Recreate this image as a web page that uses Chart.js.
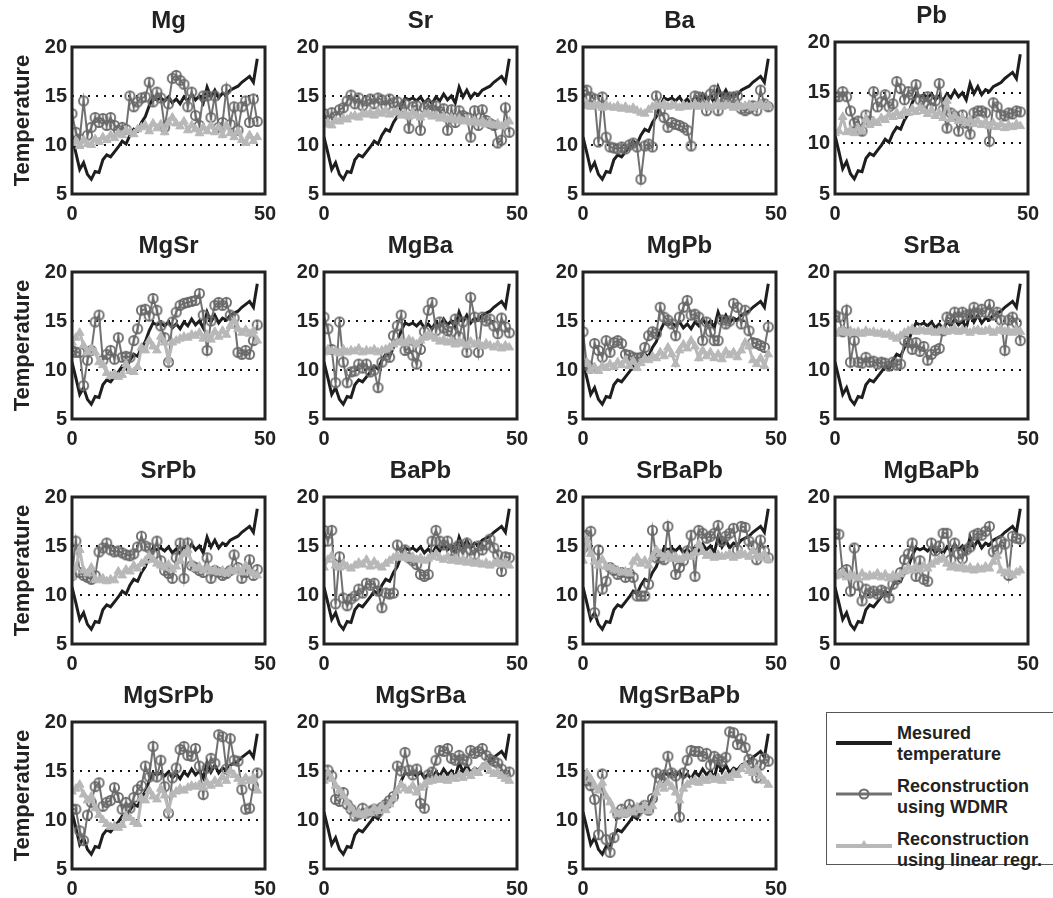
<!DOCTYPE html>
<html>
<head>
<meta charset="utf-8">
<script src="https://cdn.jsdelivr.net/npm/chart.js@4.4.1/dist/chart.umd.min.js"></script>
<style>
  body { margin: 0; background: #fff; width: 1053px; height: 898px; overflow: hidden; position: relative;
         font-family: "Liberation Sans", Arial, sans-serif; }
  canvas { position: absolute; }
  #legend { position: absolute; left: 826px; top: 712px; width: 240px; height: 153px;
            border: 1px solid #555; box-sizing: border-box; }
  .item { position: absolute; left: 70px; font-weight: bold; font-size: 18px; line-height: 21px; color: #222; }
  .swatch { position: absolute; left: 9px; }
</style>
</head>
<body>
<div id="legend">
  <svg class="swatch" style="top:22px" width="56" height="16"><line x1="0" y1="8" x2="56" y2="8" stroke="#1e1e1e" stroke-width="4"/></svg>
  <div class="item" style="top:10px">Mesured<br>temperature</div>
  <svg class="swatch" style="top:73px" width="56" height="16"><line x1="0" y1="8" x2="56" y2="8" stroke="#707070" stroke-width="3"/><circle cx="28" cy="8" r="4.5" fill="none" stroke="#6a6a6a" stroke-width="2"/></svg>
  <div class="item" style="top:63px">Reconstruction<br>using WDMR</div>
  <svg class="swatch" style="top:124px" width="56" height="16"><line x1="0" y1="9" x2="56" y2="9" stroke="#b8b8b8" stroke-width="4"/><polygon points="28,3 33,11 23,11" fill="#b8b8b8"/></svg>
  <div class="item" style="top:116px">Reconstruction<br>using linear regr.</div>
</div>
<script>
// time index (samples 0..48)
const samples = Array.from({ length: 49 }, (_, i) => i);

// measured temperature (same in every panel)
const measured = [10.8, 9.2, 7.5, 8.2, 7.0, 6.5, 7.3, 7.2, 8.5, 9.0,
  8.8, 9.3, 9.8, 10.4, 10.1, 11.0, 11.6, 11.4, 12.3, 12.9,
  14.0, 14.8, 14.6, 14.8, 14.5, 14.9, 14.3, 14.7, 14.2, 14.9,
  14.5, 15.2, 14.6, 15.0, 14.3, 15.9, 14.9, 15.6, 14.8, 15.3,
  15.1, 15.6, 15.8, 16.0, 16.4, 16.7, 17.0, 16.4, 18.8];

// reconstructions, WDMR (circles) and linear regression (triangles)
const mgWdmr = [13.2, 11.3, 10.6, 14.5, 11.0, 11.8, 12.8, 12.3, 12.7, 12.0,
  12.8, 12.0, 11.5, 11.8, 11.6, 15.0, 13.9, 14.4, 14.8, 14.9,
  16.4, 14.4, 15.4, 14.8, 11.8, 14.2, 16.8, 17.1, 16.6, 16.2,
  13.9, 15.4, 13.0, 12.0, 15.0, 15.0, 12.8, 15.0, 11.8, 12.3,
  15.7, 12.1, 13.9, 11.5, 13.9, 14.5, 12.3, 14.7, 12.4];
const mgLinear = [10.2, 10.4, 9.9, 10.5, 10.1, 10.0, 10.6, 10.3, 10.8, 10.5,
  11.0, 10.7, 11.2, 11.0, 11.5, 11.3, 11.1, 11.6, 11.8, 12.0,
  11.4, 12.2, 11.7, 12.1, 11.3, 12.3, 12.8, 12.2, 11.9, 12.4,
  11.5, 12.0, 11.6, 11.2, 11.8, 11.4, 12.0, 11.3, 11.8, 11.0,
  12.0, 11.2, 10.8, 11.4, 10.5, 10.2, 11.0, 10.4, 10.8];

const srWdmr = [13.2, 12.5, 13.3, 12.9, 13.6, 13.8, 14.5, 15.1, 14.2, 14.8,
  14.0, 14.5, 14.7, 14.2, 14.8, 14.6, 14.0, 14.7, 14.3, 14.4,
  13.8, 14.2, 11.7, 13.9, 14.0, 11.5, 13.8, 14.1, 13.6, 14.0,
  13.4, 13.7, 11.5, 13.6, 12.3, 13.5, 13.0, 12.8, 10.8, 13.5,
  12.0, 13.6, 12.5, 12.2, 12.0, 10.2, 10.5, 13.8, 11.3];
const srLinear = [12.1, 12.3, 12.0, 12.5, 12.4, 12.7, 12.6, 12.9, 13.0, 12.8,
  13.2, 13.1, 13.3, 13.0, 13.4, 13.2, 13.5, 13.1, 13.3, 13.4,
  13.0, 13.2, 12.9, 13.3, 13.0, 12.8, 13.1, 13.2, 12.9, 13.0,
  12.7, 12.9, 12.6, 12.8, 12.5, 12.7, 12.4, 12.6, 12.3, 12.5,
  12.2, 12.4, 12.1, 12.3, 12.0, 12.2, 11.9, 12.1, 12.4];

const baWdmr = [15.5, 15.6, 14.9, 14.7, 10.3, 14.9, 10.8, 9.8, 9.7, 9.6,
  9.8, 9.6, 10.0, 10.2, 9.8, 6.5, 9.9, 10.1, 9.8, 15.0,
  13.5, 12.8, 11.8, 12.3, 12.1, 12.0, 11.8, 11.5, 9.9, 15.0,
  14.9, 14.8, 13.5, 15.2, 15.6, 13.5, 14.9, 14.6, 14.9, 14.8,
  15.0, 13.7, 13.5, 13.7, 14.0, 13.5, 15.6, 14.2, 13.9];
const baLinear = [14.0, 14.2, 13.9, 14.1, 14.0, 13.8, 14.1, 13.9, 13.8, 14.0,
  13.7, 13.9, 13.6, 13.8, 13.5, 13.3, 13.2, 13.6, 13.9, 14.1,
  14.0, 14.2, 13.9, 14.1, 14.0, 13.8, 14.1, 13.9, 14.0, 14.2,
  13.9, 14.0, 14.1, 13.8, 14.0, 14.2, 13.9, 14.1, 14.0, 13.8,
  14.1, 13.9, 14.0, 14.1, 13.8, 14.0, 14.2, 13.9, 14.0];

const pbWdmr = [14.6, 14.6, 15.1, 14.6, 13.2, 12.0, 12.2, 11.2, 12.8, 12.2,
  15.1, 13.6, 14.1, 14.8, 13.6, 13.9, 16.1, 15.4, 14.3, 15.1,
  14.8, 15.8, 14.3, 14.0, 14.6, 13.5, 14.2, 15.9, 13.3, 11.5,
  13.0, 12.7, 11.2, 12.8, 12.0, 10.9, 13.0, 13.2, 13.2, 13.0,
  10.2, 14.0, 13.6, 12.8, 12.7, 13.0, 12.9, 13.2, 13.1];
const pbLinear = [11.0, 11.2, 12.6, 11.1, 11.3, 11.0, 11.5, 11.2, 12.4, 11.8,
  12.2, 12.0, 12.5, 12.3, 12.8, 12.6, 13.0, 12.7, 13.2, 13.0,
  13.4, 13.1, 13.5, 13.2, 12.9, 13.3, 12.7, 13.0, 12.5, 14.2,
  12.4, 12.7, 12.2, 12.5, 12.0, 12.3, 11.9, 12.2, 11.8, 12.1,
  11.7, 12.0, 11.6, 11.9, 11.5, 11.8, 11.6, 11.9, 11.7];

const mgSrWdmr = [12.0, 11.8, 11.8, 8.4, 11.0, 12.0, 14.9, 15.6, 11.0, 11.6,
  12.0, 11.1, 13.3, 11.3, 11.4, 11.3, 13.0, 14.2, 16.1, 16.2,
  15.5, 17.3, 16.1, 14.5, 13.3, 10.8, 14.9, 15.9, 16.6, 16.8,
  16.9, 17.0, 17.1, 17.8, 15.6, 12.0, 15.0, 16.6, 16.9, 16.6,
  16.9, 15.6, 15.3, 11.8, 11.6, 12.0, 11.6, 13.0, 14.6];
const mgSrLinear = [12.8, 13.3, 13.8, 12.5, 11.8, 12.2, 11.8, 10.8, 10.5, 9.7,
  9.4, 9.6, 9.3, 9.5, 10.6, 9.9, 9.8, 10.3, 12.3, 12.0,
  13.0, 12.4, 12.0, 13.4, 12.8, 11.0, 12.8, 13.0, 13.2, 13.4,
  13.3, 13.6, 13.5, 13.8, 13.2, 13.6, 13.1, 13.9, 13.4, 14.0,
  13.6, 14.5, 15.0, 14.2, 13.8, 14.1, 13.7, 14.0, 13.0];

const mgBaWdmr = [15.4, 14.2, 12.1, 8.7, 14.9, 10.8, 8.7, 9.8, 9.9, 10.6,
  10.2, 10.6, 9.8, 10.0, 8.2, 10.8, 11.5, 11.3, 13.5, 14.5,
  15.6, 12.0, 12.2, 11.5, 10.6, 12.1, 13.9, 16.1, 16.9, 14.0,
  14.9, 14.3, 14.0, 13.9, 15.2, 13.4, 14.9, 11.8, 17.4, 15.4,
  11.8, 15.4, 15.0, 15.2, 14.5, 13.7, 15.3, 14.4, 13.8];
const mgBaLinear = [11.8, 12.1, 11.9, 12.0, 11.7, 12.1, 11.8, 12.0, 11.9, 12.2,
  11.8, 12.0, 11.9, 12.1, 11.8, 12.0, 12.1, 12.3, 12.6, 12.8,
  13.0, 12.7, 13.1, 12.9, 12.6, 13.0, 13.3, 13.6, 13.4, 13.2,
  12.9, 13.1, 12.8, 13.0, 12.6, 12.9, 12.7, 12.5, 12.9, 12.6,
  12.8, 12.4, 12.7, 12.5, 12.3, 12.6, 12.2, 12.5, 12.3];

const mgPbWdmr = [13.9, 10.5, 10.2, 12.7, 12.0, 11.3, 13.0, 11.8, 12.8, 13.0,
  12.7, 11.6, 11.5, 11.3, 11.2, 11.3, 12.3, 13.5, 13.9, 13.7,
  16.4, 15.4, 15.1, 14.7, 13.5, 15.4, 16.4, 17.1, 15.6, 15.7,
  15.4, 13.0, 14.9, 13.9, 13.0, 13.0, 15.1, 14.7, 15.0, 16.8,
  16.4, 14.7, 16.1, 14.0, 12.8, 12.7, 12.5, 12.3, 14.4];
const mgPbLinear = [10.6, 10.8, 10.0, 10.3, 9.9, 10.4, 10.2, 10.6, 10.3, 10.8,
  10.5, 11.0, 10.4, 10.9, 10.2, 10.7, 11.2, 11.0, 11.4, 11.2,
  11.8, 11.4, 12.3, 11.6, 10.6, 12.0, 12.6, 12.2, 13.0, 12.4,
  11.2, 12.0, 11.4, 11.8, 11.2, 11.6, 11.1, 11.9, 11.5, 11.8,
  11.3, 12.0, 12.8, 12.4, 11.0, 10.6, 11.2, 10.4, 11.6];

const srBaWdmr = [15.6, 15.4, 13.9, 16.1, 10.8, 13.0, 10.8, 10.7, 11.3, 10.8,
  10.9, 10.6, 10.8, 10.7, 10.4, 10.8, 10.5, 10.6, 13.0, 12.8,
  12.1, 12.8, 11.9, 12.4, 11.0, 11.6, 12.0, 12.2, 14.0, 15.4,
  15.2, 15.9, 15.4, 15.9, 15.6, 15.7, 16.4, 15.8, 16.2, 15.9,
  16.7, 15.6, 15.9, 15.1, 12.0, 15.1, 15.4, 14.8, 13.0];
const srBaLinear = [13.7, 13.9, 14.1, 13.8, 14.0, 13.8, 13.9, 13.7, 14.0, 13.8,
  13.9, 13.7, 13.8, 13.6, 13.7, 13.4, 13.2, 13.5, 13.8, 14.0,
  14.2, 13.9, 14.1, 14.0, 13.9, 14.1, 13.8, 14.0, 14.1, 13.9,
  14.0, 14.2, 13.9, 14.1, 14.0, 13.8, 14.0, 14.1, 13.9, 14.0,
  14.1, 13.8, 14.0, 14.2, 13.9, 14.0, 13.8, 14.1, 13.9];

const srPbWdmr = [12.0, 15.5, 12.3, 12.0, 11.8, 11.6, 12.0, 14.4, 14.8, 15.3,
  14.6, 14.4, 14.5, 14.3, 14.1, 14.0, 14.2, 14.9, 16.0, 15.0,
  14.8, 14.1, 15.5, 13.5, 12.5, 12.2, 11.7, 13.8, 15.3, 11.7,
  15.3, 13.0, 12.8, 12.5, 12.3, 13.8, 11.7, 12.5, 12.3, 12.0,
  12.2, 12.5, 14.1, 12.8, 11.7, 12.3, 13.6, 12.0, 12.6];
const srPbLinear = [11.8, 12.8, 14.6, 12.5, 12.2, 12.8, 11.6, 11.5, 11.7, 11.4,
  11.6, 11.5, 12.4, 12.0, 12.6, 12.4, 13.0, 12.7, 13.2, 13.5,
  14.0, 13.6, 13.2, 13.0, 12.8, 13.1, 12.6, 12.9, 13.5, 14.2,
  14.6, 13.2, 12.7, 12.9, 12.5, 12.8, 12.4, 12.6, 12.3, 12.5,
  12.2, 12.6, 12.4, 12.7, 12.3, 13.0, 12.4, 12.2, 12.0];

const baPbWdmr = [16.6, 15.5, 16.6, 9.1, 13.9, 9.7, 8.9, 9.6, 9.9, 10.6,
  10.2, 11.2, 11.0, 11.2, 10.4, 8.7, 10.2, 10.1, 10.2, 15.1,
  14.3, 14.6, 13.8, 13.5, 13.1, 12.1, 11.9, 12.1, 15.5, 16.6,
  15.5, 15.1, 15.5, 14.5, 14.8, 15.1, 14.1, 15.3, 14.6, 14.1,
  15.0, 14.6, 15.1, 15.7, 14.8, 14.1, 12.4, 13.9, 13.8];
const baPbLinear = [12.8, 13.6, 14.0, 13.0, 12.8, 13.2, 12.9, 12.7, 13.0, 13.3,
  13.1, 13.6, 12.9, 13.4, 13.0, 12.8, 13.2, 13.5, 13.8, 14.0,
  13.8, 14.1, 13.7, 13.9, 13.6, 13.8, 13.5, 13.7, 13.9, 14.2,
  13.8, 13.6, 13.9, 13.5, 13.7, 13.4, 13.6, 13.3, 13.5, 13.2,
  13.4, 13.1, 13.3, 13.0, 13.2, 13.4, 13.1, 13.3, 13.0];

const srBaPbWdmr = [14.8, 16.1, 16.5, 8.2, 14.6, 10.6, 11.4, 12.8, 12.5, 12.1,
  12.3, 11.8, 12.2, 11.8, 9.9, 9.9, 9.9, 11.1, 16.6, 13.8,
  13.8, 13.6, 17.0, 14.0, 12.1, 12.8, 13.5, 14.5, 16.1, 11.9,
  16.6, 16.3, 15.8, 16.0, 16.3, 17.1, 15.5, 16.0, 16.3, 16.8,
  14.6, 17.0, 16.9, 15.5, 15.0, 13.6, 15.6, 14.5, 13.8];
const srBaPbLinear = [13.5, 15.6, 14.2, 13.4, 13.0, 13.6, 12.9, 12.8, 12.6, 12.5,
  12.3, 12.4, 12.2, 13.4, 13.8, 13.2, 13.5, 13.0, 13.9, 14.6,
  14.2, 13.8, 14.1, 13.7, 13.9, 13.6, 13.8, 14.0, 13.9, 14.3,
  15.2, 14.4, 14.0, 14.2, 13.8, 14.1, 13.9, 14.0, 14.2, 13.8,
  14.0, 14.3, 14.1, 13.9, 14.5, 14.0, 13.8, 14.2, 13.6];

const mgBaPbWdmr = [16.3, 16.2, 12.3, 12.6, 10.4, 14.8, 11.0, 9.4, 10.6, 10.2,
  10.4, 10.1, 10.5, 10.3, 9.7, 11.1, 11.6, 12.3, 13.6, 14.2,
  15.3, 11.9, 13.5, 11.6, 11.4, 15.3, 14.5, 15.0, 16.3, 16.3,
  13.6, 15.3, 14.2, 13.7, 14.6, 14.9, 16.1, 16.3, 16.1, 16.5,
  17.0, 14.4, 14.6, 15.5, 15.2, 12.0, 16.0, 15.8, 15.7];
const mgBaPbLinear = [11.9, 12.0, 12.3, 11.8, 12.1, 11.9, 11.7, 12.2, 11.8, 12.0,
  11.9, 12.2, 11.8, 12.1, 11.7, 12.0, 11.8, 12.1, 12.4, 12.8,
  12.5, 12.9, 12.6, 13.0, 12.7, 13.1, 13.4, 13.6, 13.8, 13.2,
  12.8, 13.0, 12.7, 12.9, 12.6, 12.8, 12.5, 12.8, 12.6, 12.9,
  12.7, 13.4, 14.0, 12.5, 12.2, 12.4, 12.0, 12.3, 12.5];

const mgSrPbWdmr = [11.1, 11.1, 8.9, 7.9, 10.5, 11.8, 13.4, 13.8, 11.4, 11.8,
  12.0, 13.3, 12.3, 11.1, 11.8, 11.2, 12.3, 13.1, 13.5, 15.5,
  14.4, 17.5, 14.4, 16.1, 13.4, 10.7, 14.3, 15.3, 17.2, 17.5,
  16.6, 16.5, 17.3, 15.5, 12.6, 15.3, 16.3, 15.8, 18.7, 18.5,
  15.2, 18.3, 16.1, 16.0, 13.1, 11.1, 11.2, 13.5, 14.8];
const mgSrPbLinear = [12.9, 13.2, 13.6, 12.6, 12.0, 12.4, 11.2, 10.5, 10.0, 9.6,
  9.3, 9.4, 9.2, 9.5, 10.4, 10.2, 9.8, 9.6, 12.2, 12.0,
  13.0, 12.4, 12.1, 13.2, 12.5, 11.0, 12.6, 12.9, 13.2, 13.0,
  13.3, 13.5, 13.4, 13.6, 13.3, 13.8, 13.5, 14.0, 13.7, 14.4,
  14.0, 15.0, 14.6, 14.2, 13.9, 14.3, 14.0, 14.3, 13.0];

const mgSrBaWdmr = [14.5, 15.1, 14.5, 12.1, 11.9, 12.8, 11.6, 11.1, 10.4, 10.6,
  11.2, 10.7, 10.9, 11.1, 10.8, 11.3, 11.6, 12.0, 12.4, 15.5,
  15.0, 16.9, 15.1, 14.6, 15.2, 11.7, 11.2, 14.6, 14.9, 16.1,
  17.1, 17.0, 17.3, 16.3, 16.1, 16.6, 16.2, 16.0, 17.1, 16.8,
  17.0, 17.3, 16.6, 16.2, 16.0, 15.8, 15.2, 14.6, 14.9];
const mgSrBaLinear = [14.0, 14.8, 14.2, 13.5, 13.0, 12.5, 11.8, 11.2, 10.6, 10.8,
  10.5, 10.9, 10.7, 11.2, 10.9, 11.4, 11.0, 11.6, 12.2, 13.0,
  13.6, 13.2, 13.0, 13.5, 12.8, 13.3, 13.6, 13.9, 14.0, 14.2,
  14.1, 14.3, 14.0, 14.4, 14.2, 14.6, 14.3, 14.8, 14.5, 15.0,
  14.8, 15.4, 15.6, 15.0, 14.7, 14.9, 14.5, 14.2, 14.0];

const mgSrBaPbWdmr = [14.2, 14.0, 13.5, 12.1, 8.5, 14.7, 8.0, 6.7, 8.2, 10.6,
  11.1, 10.8, 11.6, 11.0, 10.8, 11.2, 11.5, 11.0, 12.2, 14.8,
  14.2, 14.6, 16.5, 14.8, 14.5, 10.3, 14.8, 16.1, 17.1, 17.0,
  17.0, 16.5, 16.8, 15.6, 16.5, 16.2, 16.0, 16.4, 19.0, 18.9,
  17.7, 18.3, 17.4, 16.2, 15.8, 14.3, 15.6, 16.3, 16.0];
const mgSrBaPbLinear = [14.0, 14.8, 14.2, 13.5, 13.0, 13.8, 12.4, 11.8, 11.0, 10.6,
  10.8, 10.6, 11.0, 10.8, 11.3, 11.0, 11.5, 10.9, 11.4, 12.8,
  13.6, 13.2, 13.8, 13.4, 12.8, 12.0, 13.2, 13.6, 13.9, 14.1,
  13.8, 14.2, 14.0, 14.4, 14.1, 14.3, 14.0, 14.5, 14.3, 14.8,
  14.6, 15.2, 15.6, 15.0, 14.8, 15.2, 14.5, 14.0, 13.6];

// axis ticks
const yTicks = [5, 10, 15, 20];
const xTicks = [0, 50];

// panels in reading order: title, WDMR, linear regr.
const panels = [
  ['Mg', mgWdmr, mgLinear], ['Sr', srWdmr, srLinear], ['Ba', baWdmr, baLinear], ['Pb', pbWdmr, pbLinear],
  ['MgSr', mgSrWdmr, mgSrLinear], ['MgBa', mgBaWdmr, mgBaLinear], ['MgPb', mgPbWdmr, mgPbLinear], ['SrBa', srBaWdmr, srBaLinear],
  ['SrPb', srPbWdmr, srPbLinear], ['BaPb', baPbWdmr, baPbLinear], ['SrBaPb', srBaPbWdmr, srBaPbLinear], ['MgBaPb', mgBaPbWdmr, mgBaPbLinear],
  ['MgSrPb', mgSrPbWdmr, mgSrPbLinear], ['MgSrBa', mgSrBaWdmr, mgSrBaLinear], ['MgSrBaPb', mgSrBaPbWdmr, mgSrBaPbLinear]
];

// plot area placement
const colLeft = [72, 324, 583, 835];
const rowTop = [47, 272, 497, 722];
const plotW = 193, plotH = 147;
const axisW = 70, titleH = 47, xAxisH = 32, rightPad = 14;

Chart.defaults.font.family = '"Liberation Sans", Arial, sans-serif';
Chart.defaults.color = '#222';

// circle marker with the little vertical stroke
function circleMarker() {
  const c = document.createElement('canvas');
  c.width = 13; c.height = 13;
  const g = c.getContext('2d');
  g.strokeStyle = '#6a6a6a';
  g.lineWidth = 1.8;
  g.beginPath(); g.arc(6.5, 6.5, 4.6, 0, Math.PI * 2); g.stroke();
  g.beginPath(); g.moveTo(6.5, 1); g.lineTo(6.5, 12); g.stroke();
  return c;
}
const marker = circleMarker();

const framePlugin = {
  id: 'frame',
  afterDatasetsDraw(chart) {
    const { ctx, chartArea: a } = chart;
    ctx.save();
    ctx.lineWidth = 3;
    ctx.strokeStyle = '#222';
    ctx.strokeRect(a.left, a.top, a.width, a.height);
    ctx.restore();
  }
};

panels.forEach(function (p, i) {
  const col = i % 4, row = Math.floor(i / 4);
  // the Pb panel sits a little higher and is a bit taller
  const lift = (i === 3) ? 5 : 0;
  const canvas = document.createElement('canvas');
  canvas.width = axisW + plotW + rightPad;
  canvas.height = titleH + plotH + lift + xAxisH;
  canvas.style.left = (colLeft[col] - axisW) + 'px';
  canvas.style.top = (rowTop[row] - lift - titleH) + 'px';
  document.body.appendChild(canvas);

  new Chart(canvas, {
    type: 'line',
    data: {
      labels: samples,
      datasets: [
        { label: 'Reconstruction using linear regr.', data: p[2], order: 0,
          borderColor: '#b8b8b8', backgroundColor: '#b8b8b8', borderWidth: 3,
          pointStyle: 'triangle', pointRadius: 5, pointBorderWidth: 1 },
        { label: 'Reconstruction using WDMR', data: p[1], order: 1,
          borderColor: '#717171', borderWidth: 2, pointStyle: marker, pointRadius: 5 },
        { label: 'Mesured temperature', data: measured, order: 2,
          borderColor: '#1e1e1e', borderWidth: 3, pointRadius: 0 }
      ]
    },
    options: {
      responsive: false,
      animation: false,
      devicePixelRatio: 1,
      layout: { padding: { left: 0, top: 0, right: rightPad, bottom: 0 } },
      plugins: {
        legend: { display: false },
        tooltip: { enabled: false },
        title: { display: true, text: p[0], color: '#222', fullSize: false,
                 font: { size: 24, weight: 'bold', lineHeight: 1.1 }, padding: { top: 8, bottom: 12.6 } }
      },
      scales: {
        x: {
          type: 'linear', min: 0, max: 50,
          grid: { display: false },
          border: { display: false },
          afterBuildTicks: s => { s.ticks = xTicks.map(v => ({ value: v })); },
          afterFit: s => { s.height = xAxisH; s.paddingLeft = 0; s.paddingRight = 0; },
          ticks: { font: { size: 20, weight: 'bold' }, maxRotation: 0, padding: 0 }
        },
        y: {
          min: 5, max: 20,
          afterBuildTicks: s => { s.ticks = yTicks.map(v => ({ value: v })); },
          afterFit: s => { s.width = axisW; s.paddingTop = 0; s.paddingBottom = 0; },
          grid: {
            drawTicks: false, lineWidth: 2,
            color: c => (c.tick && (c.tick.value === 10 || c.tick.value === 15)) ? '#111' : 'rgba(0,0,0,0)'
          },
          border: { display: false, dash: [2, 6] },
          ticks: { font: { size: 20, weight: 'bold' }, padding: 5 },
          title: { display: col === 0, text: 'Temperature', color: '#222',
                   font: { size: 22, weight: 'bold', lineHeight: 1.1 }, padding: { top: 9, bottom: 0 } }
        }
      }
    },
    plugins: [framePlugin]
  });
});
</script>
</body>
</html>
